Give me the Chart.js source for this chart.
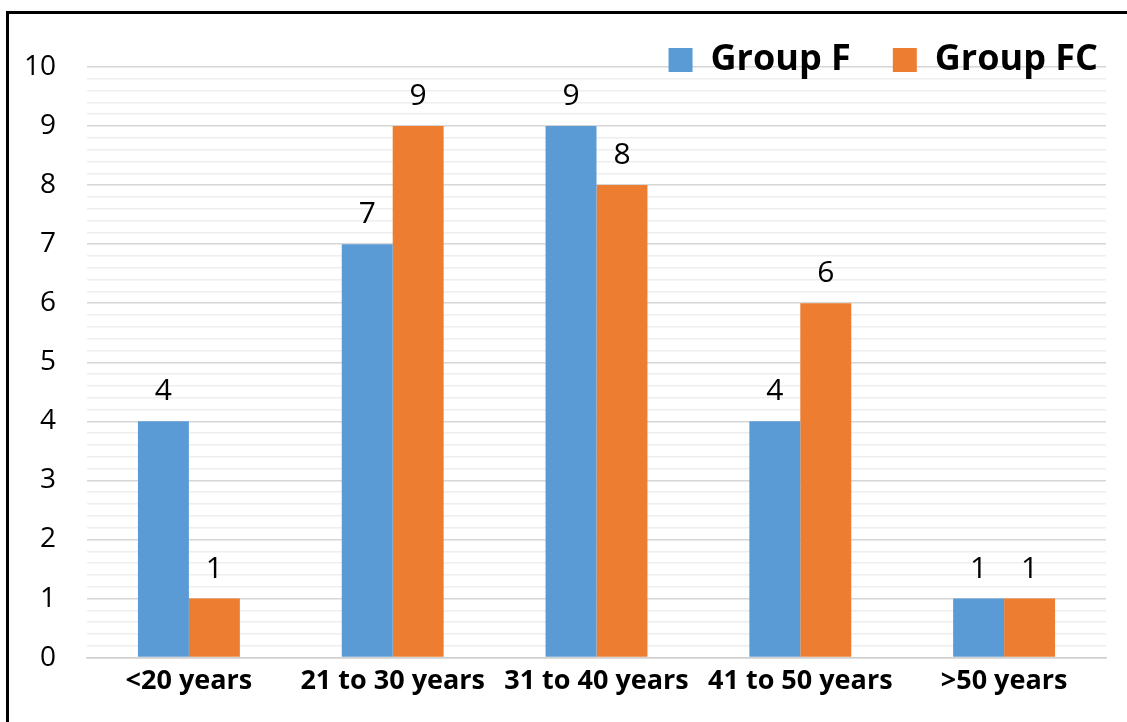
<!DOCTYPE html>
<html>
<head>
<meta charset="utf-8">
<script src="https://cdn.jsdelivr.net/npm/chart.js@4.4.0/dist/chart.umd.min.js"></script>
<style>
  html, body { margin: 0; padding: 0; background: #ffffff; }
  #wrap { position: relative; width: 1127px; height: 722px; overflow: hidden; }
  #frame { position: absolute; left: 6px; top: 11px; width: 1200px; height: 800px;
           border-left: 3px solid #000; border-top: 3px solid #000; pointer-events: none; }
  canvas { position: absolute; left: 0; top: 0; }
</style>
</head>
<body>
<div id="wrap">
  <canvas id="chart" width="1127" height="722"></canvas>
  <div id="frame"></div>
</div>
<script>
// Age groups and patient counts per group
const categories = ['<20 years', '21 to 30 years', '31 to 40 years', '41 to 50 years', '>50 years'];
const groupF  = [4, 7, 9, 4, 1];
const groupFC = [1, 9, 8, 6, 1];
const seriesNames = ['Group F', 'Group FC'];

const FONT = "'Open Sans', 'DejaVu Sans', sans-serif";

const isWhole = v => Math.abs(v - Math.round(v)) < 1e-6;

// Writes each bar's value just above it
const valueLabels = {
  id: 'valueLabels',
  afterDatasetsDraw(chart) {
    const ctx = chart.ctx;
    ctx.save();
    ctx.font = "30px " + FONT;
    ctx.fillStyle = '#000';
    ctx.textAlign = 'center';
    ctx.textBaseline = 'alphabetic';
    chart.data.datasets.forEach((ds, di) => {
      chart.getDatasetMeta(di).data.forEach((bar, i) => {
        ctx.fillText(String(ds.data[i]), bar.x, bar.y - 21);
      });
    });
    ctx.restore();
  }
};

// Lets the legend row sit over the top edge of the plot, to the right
const legendPlacement = {
  id: 'legendPlacement',
  afterLayout(chart) {
    const lg = chart.legend;
    if (!lg) return;
    lg.top = 0;
    lg.bottom = 92;
    lg.height = lg.bottom - lg.top;
    lg.right = 1140;
    lg.width = lg.right - lg.left;
  }
};

new Chart(document.getElementById('chart'), {
  type: 'bar',
  data: {
    labels: categories,
    datasets: [
      { label: seriesNames[0], data: groupF,  backgroundColor: '#5b9bd5' },
      { label: seriesNames[1], data: groupFC, backgroundColor: '#ed7d31' }
    ]
  },
  options: {
    responsive: false,
    animation: false,
    devicePixelRatio: 1,
    layout: { padding: { left: 25, right: 21, top: 0, bottom: 16 } },
    datasets: { bar: { categoryPercentage: 0.5, barPercentage: 1.0 } },
    plugins: {
      legend: {
        position: 'top',
        align: 'end',
        maxHeight: 67,
        labels: {
          boxWidth: 24,
          boxHeight: 24,
          padding: 42,
          color: '#000',
          font: { family: FONT, size: 36, weight: 'bold' }
        }
      },
      tooltip: { enabled: false }
    },
    scales: {
      x: {
        grid: { display: false, drawTicks: false },
        border: { display: true, color: '#d0d0d0', width: 1.5 },
        ticks: {
          padding: 8,
          color: '#000',
          font: { family: FONT, size: 27, weight: 'bold' },
          maxRotation: 0,
          autoSkip: false
        }
      },
      y: {
        min: 0,
        max: 10,
        grid: {
          drawTicks: false,
          color: c => isWhole(c.tick.value) ? '#d6d6d6' : '#eeeeee',
          lineWidth: 1.5
        },
        border: { display: false },
        ticks: {
          stepSize: 0.2,
          autoSkip: false,
          padding: 31,
          color: '#000',
          font: { family: FONT, size: 28 },
          callback: v => isWhole(v) ? String(Math.round(v)) : ''
        },
        afterFit: s => { s.width = 62; }
      }
    }
  },
  plugins: [valueLabels, legendPlacement]
});
</script>
</body>
</html>
